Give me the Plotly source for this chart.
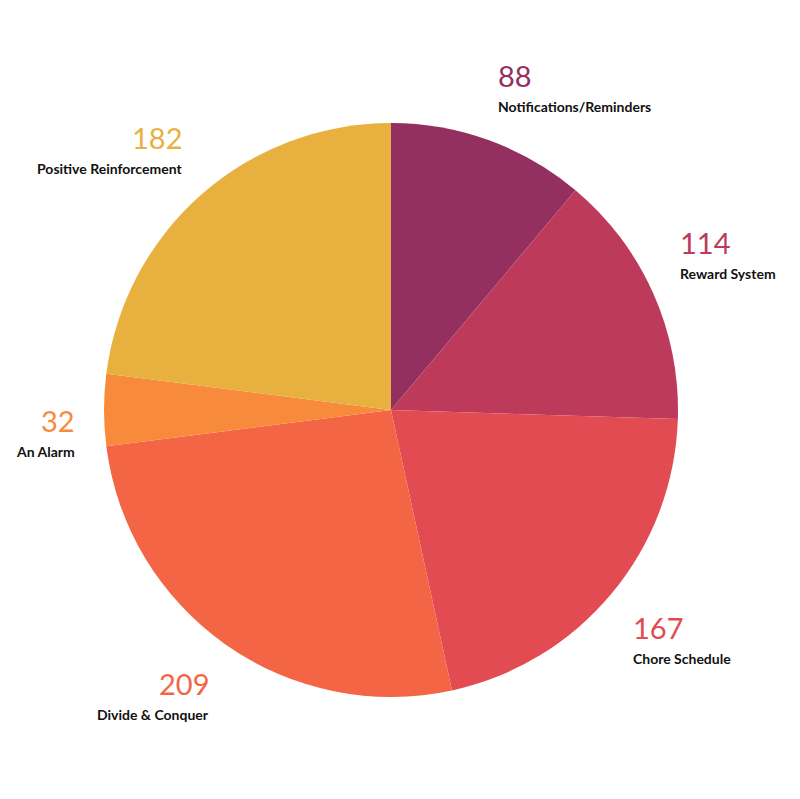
import plotly.graph_objects as go

categories = ["Notifications/Reminders", "Reward System", "Chore Schedule",
              "Divide & Conquer", "An Alarm", "Positive Reinforcement"]
values = [88, 114, 167, 209, 32, 182]
colors = ["#93305F", "#BD3A5A", "#E14B51", "#F46545", "#F88B3B", "#E8B03F"]

W, H = 800, 799
OFF = 8  # page body margin compensation
cx, cy, r = 391 - OFF, 410 - OFF, 287

fig = go.Figure(go.Pie(
    labels=categories, values=values, sort=False, direction="clockwise",
    rotation=0, textinfo="none", hoverinfo="label+value",
    marker=dict(colors=colors, line=dict(width=0)),
    domain=dict(x=[(cx - r) / W, (cx + r) / W], y=[1 - (cy + r) / H, 1 - (cy - r) / H]),
    showlegend=False,
))

# label placement (pixel anchors): (x, y_number_top, anchor)
label_pos = [
    (498, 62, "left"),
    (680, 229, "left"),
    (633, 614, "left"),
    (211, 670, "right"),
    (77, 407, "right"),
    (184, 124, "right"),
]
for cat, val, col, (x, y, anc) in zip(categories, values, colors, label_pos):
    xp = (x - OFF - 2 * (anc == "left")) / W
    fig.add_annotation(x=xp, y=1 - (y - 14) / H, xref="paper", yref="paper",
                       text=str(val), showarrow=False, xanchor=anc, yanchor="top",
                       font=dict(family="Lato", size=29, color=col))
    fig.add_annotation(x=xp, y=1 - (y + 26) / H, xref="paper", yref="paper",
                       text=cat, showarrow=False, xanchor=anc, yanchor="top",
                       font=dict(family="Lato", size=14, color="#111111", weight="bold"))

fig.update_layout(width=W, height=H, margin=dict(l=0, r=0, t=0, b=0),
                  paper_bgcolor="white", plot_bgcolor="white")
fig.write_html("out.html")
